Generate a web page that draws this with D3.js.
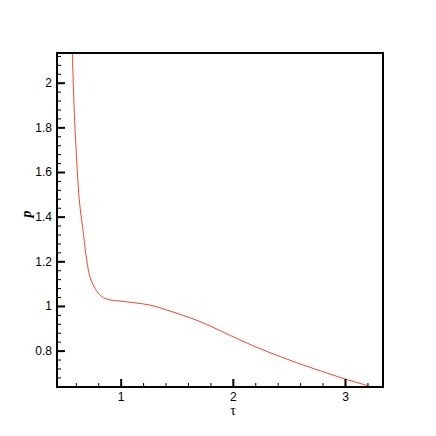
<!DOCTYPE html>
<html>
<head>
<meta charset="utf-8">
<script src="https://cdn.jsdelivr.net/npm/d3@7"></script>
<style>
  html, body { margin: 0; padding: 0; background: #fff; }
  svg { display: block; }
</style>
</head>
<body>
<svg id="chart"></svg>
<script>
// curve points
const tau = [0.569, 0.588, 0.613, 0.631, 0.667, 0.697, 0.726, 0.771, 0.831, 0.905, 0.994, 1.112, 1.261, 1.410, 1.707, 2.063, 2.271, 2.569, 3.0, 3.207, 3.25];
const pres = [2.132, 1.848, 1.609, 1.475, 1.326, 1.206, 1.131, 1.079, 1.042, 1.027, 1.022, 1.015, 1.004, 0.982, 0.930, 0.848, 0.803, 0.746, 0.673, 0.642, 0.634];

const xTicks = [1, 2, 3];
const yTicks = [0.8, 1, 1.2, 1.4, 1.6, 1.8, 2];

const W = 436, H = 436;
const frame = { left: 57, top: 53, right: 383, bottom: 387 };

const svg = d3.select("#chart").attr("width", W).attr("height", H);

const x = d3.scaleLinear().domain([0.4323, 3.339]).range([frame.left, frame.right]);
const y = d3.scaleLinear().domain([0.637, 2.133]).range([frame.bottom, frame.top]);

// clip for the curve
svg.append("clipPath").attr("id", "clip")
  .append("rect")
  .attr("x", frame.left).attr("y", frame.top)
  .attr("width", frame.right - frame.left).attr("height", frame.bottom - frame.top);

const data = tau.map((t, i) => ({ t, p: pres[i] }));

const line = d3.line()
  .x(d => x(d.t))
  .y(d => y(d.p))
  .curve(d3.curveCatmullRom.alpha(0.5));

svg.append("path")
  .datum(data)
  .attr("clip-path", "url(#clip)")
  .attr("fill", "none")
  .attr("stroke", "#f2462e")
  .attr("stroke-width", 1)
  .attr("d", line);

// minor ticks
const xMinor = d3.range(0.6, 3.3, 0.2).filter(v => !xTicks.some(t => Math.abs(t - v) < 1e-6));
const yMinor = d3.range(0.64, 2.13, 0.04).filter(v => !yTicks.some(t => Math.abs(t - v) < 1e-6));

// bottom axis (ticks pointing inward)
svg.append("g")
  .attr("transform", `translate(0,${frame.bottom})`)
  .call(d3.axisBottom(x).tickValues(xMinor).tickSize(-4).tickFormat(""))
  .call(g => g.select(".domain").remove())
  .call(g => g.selectAll("line").attr("stroke", "#000").attr("stroke-width", 1));

const xMajor = svg.append("g")
  .attr("transform", `translate(0,${frame.bottom})`)
  .call(d3.axisBottom(x).tickValues(xTicks).tickSize(-8).tickPadding(5).tickFormat(d3.format("d")));
xMajor.select(".domain").remove();
xMajor.selectAll("line").attr("stroke", "#000").attr("stroke-width", 2);
xMajor.selectAll("text")
  .attr("font-family", "Liberation Sans, Arial, sans-serif")
  .attr("font-size", 12)
  .attr("fill", "#000");

// left axis
svg.append("g")
  .attr("transform", `translate(${frame.left},0)`)
  .call(d3.axisLeft(y).tickValues(yMinor).tickSize(-4).tickFormat(""))
  .call(g => g.select(".domain").remove())
  .call(g => g.selectAll("line").attr("stroke", "#000").attr("stroke-width", 1));

const yMajor = svg.append("g")
  .attr("transform", `translate(${frame.left},0)`)
  .call(d3.axisLeft(y).tickValues(yTicks).tickSize(-8).tickPadding(5).tickFormat(d => String(d)));
yMajor.select(".domain").remove();
yMajor.selectAll("line").attr("stroke", "#000").attr("stroke-width", 2);
yMajor.selectAll("text")
  .attr("font-family", "Liberation Sans, Arial, sans-serif")
  .attr("font-size", 12)
  .attr("fill", "#000");

// frame
svg.append("rect")
  .attr("x", frame.left).attr("y", frame.top)
  .attr("width", frame.right - frame.left).attr("height", frame.bottom - frame.top)
  .attr("fill", "none")
  .attr("stroke", "#000")
  .attr("stroke-width", 2);

// axis titles
svg.append("text")
  .attr("x", 233).attr("y", 415)
  .attr("text-anchor", "middle")
  .attr("font-family", "Liberation Serif, Times New Roman, serif")
  .attr("font-size", 14)
  .text("τ");

svg.append("text")
  .attr("transform", "translate(31,214) rotate(-90)")
  .attr("text-anchor", "middle")
  .attr("font-family", "Liberation Serif, Times New Roman, serif")
  .attr("font-style", "italic")
  .attr("font-weight", "bold")
  .attr("font-size", 14)
  .text("p");
</script>
</body>
</html>
